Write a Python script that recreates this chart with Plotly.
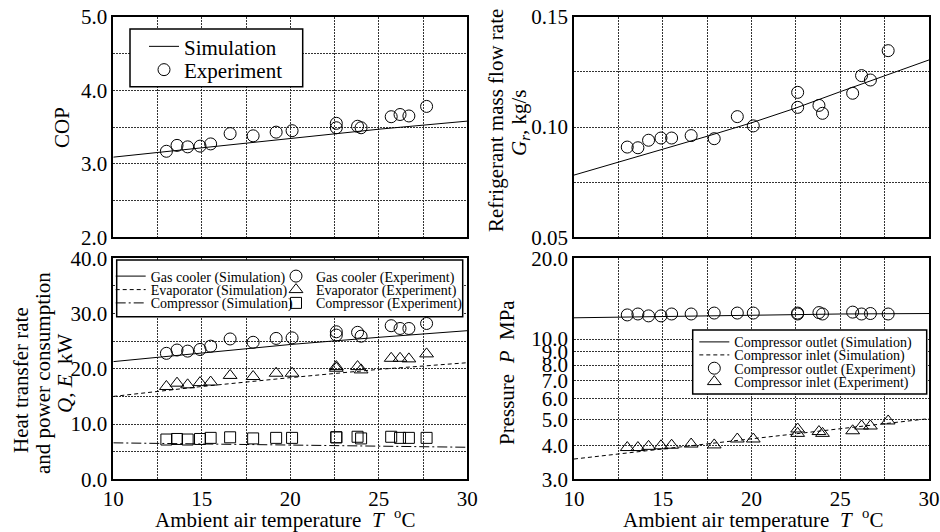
import plotly.graph_objects as go

# ---------------- data ----------------
T_exp = [13.0, 13.6, 14.2, 14.9, 15.5, 16.6, 17.9, 19.2, 20.1, 22.6, 22.6,
         23.8, 24.0, 25.7, 26.2, 26.7, 27.7]
cop_exp = [3.17, 3.25, 3.23, 3.24, 3.27, 3.41, 3.38, 3.43, 3.45, 3.55, 3.49,
           3.51, 3.49, 3.64, 3.67, 3.65, 3.78]
gr_exp = [0.0909, 0.0906, 0.0940, 0.0950, 0.0950, 0.0961, 0.0947, 0.1047, 0.1005,
          0.1157, 0.1089, 0.1098, 0.1062, 0.1153, 0.1233, 0.1213, 0.1346]
q_gc_exp = [22.8, 23.4, 23.2, 23.5, 24.1, 25.4, 24.8, 25.5, 25.6, 26.7, 26.1,
            26.6, 25.9, 27.8, 27.3, 27.3, 28.2]
q_ev_exp = [16.8, 17.4, 17.1, 17.5, 17.6, 18.8, 18.6, 19.2, 19.2, 20.4, 20.1,
            20.4, 19.8, 21.9, 21.9, 21.8, 22.7]
e_comp_exp = [7.2, 7.3, 7.2, 7.3, 7.5, 7.6, 7.4, 7.5, 7.5, 7.6, 7.6,
              7.7, 7.4, 7.7, 7.5, 7.5, 7.5]
p_out_exp = [12.3, 12.4, 12.2, 12.2, 12.4, 12.4, 12.5, 12.5, 12.5, 12.5, 12.4,
             12.55, 12.4, 12.6, 12.4, 12.45, 12.4]
p_in_exp = [3.94, 3.94, 3.98, 4.00, 4.02, 4.06, 4.03, 4.24, 4.24, 4.62, 4.45,
            4.52, 4.45, 4.55, 4.74, 4.74, 4.95]

T_sim = [10, 15, 20, 25, 30]
cop_sim = [3.09, 3.22, 3.35, 3.47, 3.58]
q_gc_sim = [21.3, 22.9, 24.4, 25.7, 26.9]
q_ev_sim = [15.0, 16.8, 18.4, 19.9, 21.1]
e_comp_sim = [6.6, 6.4, 6.2, 6.0, 5.8]
p_out_sim = [12.0, 12.15, 12.3, 12.4, 12.45]
p_in_sim = [3.57, 3.89, 4.24, 4.62, 5.05]

T_sim_gr = [10, 12.5, 15, 17.5, 20, 22.5, 25, 27.5, 30]
gr_sim = [0.0782, 0.0840, 0.0899, 0.0958, 0.1019, 0.1086, 0.1160, 0.1232, 0.1304]

x_ticks = [10, 15, 20, 25, 30]
p_ticks = [3, 4, 5, 6, 7, 8, 9, 10, 20]
p_ticktext = ["3.0", "4.0", "5.0", "6.0", "7.0", "8.0", "9.0", "10.0", "20.0"]

# ---------------- styling helpers ----------------
W, H = 940, 532
FONT = "Liberation Serif"


def px(x):
    return x / W


def py(y):
    return 1 - y / H


xL = [px(113.3), px(467.3)]
xR = [px(574.0), px(929.0)]
yT = [py(237.3), py(16.7)]
yB = [py(479.3), py(258.3)]

GRID = dict(showgrid=True, gridcolor="#333", gridwidth=1, griddash="2px,1px")
AX = dict(showline=True, linecolor="black", linewidth=1.5, mirror=True,
          ticks="", ticklen=0, zeroline=False, automargin=False,
          tickfont=dict(family=FONT, size=21, color="black"), **GRID)

fig = go.Figure()

LINE = dict(color="black", width=1)
MK = dict(color="black", size=12, line=dict(color="black", width=1))

# --- COP ---
fig.add_trace(go.Scatter(x=T_sim, y=cop_sim, mode="lines", line=LINE,
                         name="Simulation", xaxis="x", yaxis="y", legend="legend"))
fig.add_trace(go.Scatter(x=T_exp, y=cop_exp, mode="markers",
                         marker=dict(symbol="circle-open", **MK),
                         name="Experiment", xaxis="x", yaxis="y", legend="legend2"))

# --- mass flow ---
fig.add_trace(go.Scatter(x=T_sim_gr, y=gr_sim, mode="lines", line=LINE,
                         showlegend=False, xaxis="x2", yaxis="y2"))
fig.add_trace(go.Scatter(x=T_exp, y=gr_exp, mode="markers",
                         marker=dict(symbol="circle-open", **MK),
                         showlegend=False, xaxis="x2", yaxis="y2"))

# --- heat transfer ---
fig.add_trace(go.Scatter(x=T_sim, y=q_gc_sim, mode="lines", line=LINE,
                         name="Gas cooler (Simulation)", xaxis="x3", yaxis="y3", legend="legend3"))
fig.add_trace(go.Scatter(x=T_exp, y=q_gc_exp, mode="markers",
                         marker=dict(symbol="circle-open", **MK),
                         name="Gas cooler (Experiment)", xaxis="x3", yaxis="y3", legend="legend4"))
fig.add_trace(go.Scatter(x=T_sim, y=q_ev_sim, mode="lines",
                         line=dict(color="black", width=1, dash="4px,3px"),
                         name="Evaporator (Simulation)", xaxis="x3", yaxis="y3", legend="legend5"))
fig.add_trace(go.Scatter(x=T_exp, y=q_ev_exp, mode="markers",
                         marker=dict(symbol="triangle-up-open", color="black", size=12,
                                     line=dict(color="black", width=1)),
                         name="Evaporator (Experiment)", xaxis="x3", yaxis="y3", legend="legend6"))
fig.add_trace(go.Scatter(x=T_sim, y=e_comp_sim, mode="lines",
                         line=dict(color="black", width=1, dash="10px,3px,2px,3px"),
                         name="Compressor (Simulation)", xaxis="x3", yaxis="y3", legend="legend7"))
fig.add_trace(go.Scatter(x=T_exp, y=e_comp_exp, mode="markers",
                         marker=dict(symbol="square-open", color="black", size=11,
                                     line=dict(color="black", width=1)),
                         name="Compressor (Experiment)", xaxis="x3", yaxis="y3", legend="legend8"))

# --- pressure ---
fig.add_trace(go.Scatter(x=T_sim, y=p_out_sim, mode="lines", line=LINE,
                         name="Compressor outlet (Simulation)", xaxis="x4", yaxis="y4", legend="legend9"))
fig.add_trace(go.Scatter(x=T_sim, y=p_in_sim, mode="lines",
                         line=dict(color="black", width=1, dash="4px,3px"),
                         name="Compressor inlet (Simulation)", xaxis="x4", yaxis="y4", legend="legend10"))
fig.add_trace(go.Scatter(x=T_exp, y=p_out_exp, mode="markers",
                         marker=dict(symbol="circle-open", **MK),
                         name="Compressor outlet (Experiment)", xaxis="x4", yaxis="y4", legend="legend11"))
fig.add_trace(go.Scatter(x=T_exp, y=p_in_exp, mode="markers",
                         marker=dict(symbol="triangle-up-open", color="black", size=12,
                                     line=dict(color="black", width=1)),
                         name="Compressor inlet (Experiment)", xaxis="x4", yaxis="y4", legend="legend12"))

# ---------------- axes ----------------
XAX = dict(range=[10, 30], tickvals=x_ticks, ticktext=[str(v) for v in x_ticks],
           minor=dict(dtick=2.5, tick0=10, **GRID), **AX)

fig.update_layout(
    xaxis=dict(domain=xL, anchor="y", showticklabels=False, **XAX),
    yaxis=dict(domain=yT, anchor="x", range=[2, 5], dtick=1, tick0=2, tickformat=".1f",
               minor=dict(dtick=0.5, tick0=2, **GRID), **AX),
    xaxis2=dict(domain=xR, anchor="y2", showticklabels=False, **XAX),
    yaxis2=dict(domain=yT, anchor="x2", range=[0.05, 0.15], dtick=0.05, tick0=0.05,
                tickformat=".2f", minor=dict(dtick=0.025, tick0=0.05, **GRID), **AX),
    xaxis3=dict(domain=xL, anchor="y3", **XAX),
    yaxis3=dict(domain=yB, anchor="x3", range=[0, 40], dtick=10, tick0=0, tickformat=".1f",
                minor=dict(dtick=5, tick0=0, **GRID), **AX),
    xaxis4=dict(domain=xR, anchor="y4", **XAX),
    yaxis4=dict(domain=yB, anchor="x4", type="log", range=[0.47712, 1.30103],
                tickvals=p_ticks, ticktext=p_ticktext, **AX),
)

# ---------------- legends (one row each, inside drawn boxes) ----------------
def leg(x, y, size):
    return dict(x=px(x), y=py(y), xanchor="left", yanchor="middle",
                xref="paper", yref="paper", bgcolor="rgba(0,0,0,0)", borderwidth=0,
                font=dict(family=FONT, size=size, color="black"))


fig.update_layout(
    legend=leg(144.0, 46.7, 21),
    legend2=leg(144.0, 70.0, 21),
    legend3=leg(110.7, 276.5, 14),
    legend4=leg(276.0, 276.5, 14),
    legend5=leg(110.7, 290.0, 14),
    legend6=leg(276.0, 290.0, 14),
    legend7=leg(110.7, 303.3, 14),
    legend8=leg(276.0, 303.3, 14),
    legend9=leg(694.3, 342.3, 14),
    legend10=leg(694.3, 355.3, 14),
    legend11=leg(694.3, 368.6, 14),
    legend12=leg(694.3, 382.0, 14),
)

boxes = [(130, 29, 302.7, 86.7), (116.7, 260, 462.7, 316.7), (692.7, 330, 926.7, 394)]
shapes = []
for (x0, y0, x1, y1) in boxes:
    shapes.append(dict(type="rect", xref="paper", yref="paper",
                       x0=px(x0), x1=px(x1), y0=py(y1), y1=py(y0),
                       fillcolor="white", line=dict(color="black", width=1.5),
                       layer="above"))

# ---------------- axis titles ----------------
NB = "\u00a0"
annos = []


def title(text, x, y, angle=0, size=21):
    annos.append(dict(text=text, x=px(x), y=py(y), xref="paper", yref="paper",
                      xanchor="center", yanchor="middle", showarrow=False,
                      textangle=angle, font=dict(family=FONT, size=size, color="black")))


title("COP", 62, 128, -90)
title("Refrigerant mass flow rate", 496, 121, -90)
title("<i>G<sub>r</sub></i>," + NB + "kg/s", 520, 123, -90)
title("Heat transfer rate", 21, 380, -90)
title("and power consumption", 43, 373, -90)
title("<i>Q</i>," + NB + "<i>E</i>" + NB + NB + "kW", 65, 373, -90)
title("Pressure" + NB + NB + "<i>P</i>" + NB + NB + "MPa", 507, 373, -90)
xt = "Ambient air temperature" + NB + NB + "<i>T</i>" + NB + NB + "<sup>o</sup>C"
title(xt, 285, 518)
title(xt, 753, 518)

fig.update_layout(
    width=W, height=H,
    margin=dict(l=0, r=0, t=0, b=0, autoexpand=False),
    paper_bgcolor="white", plot_bgcolor="white",
    font=dict(family=FONT, color="black"),
    shapes=shapes, annotations=annos,
)

fig.write_html("out.html",
               config={"displayModeBar": False},
               post_script="document.body.style.margin='0px';"
                           "document.body.style.overflow='hidden';")
